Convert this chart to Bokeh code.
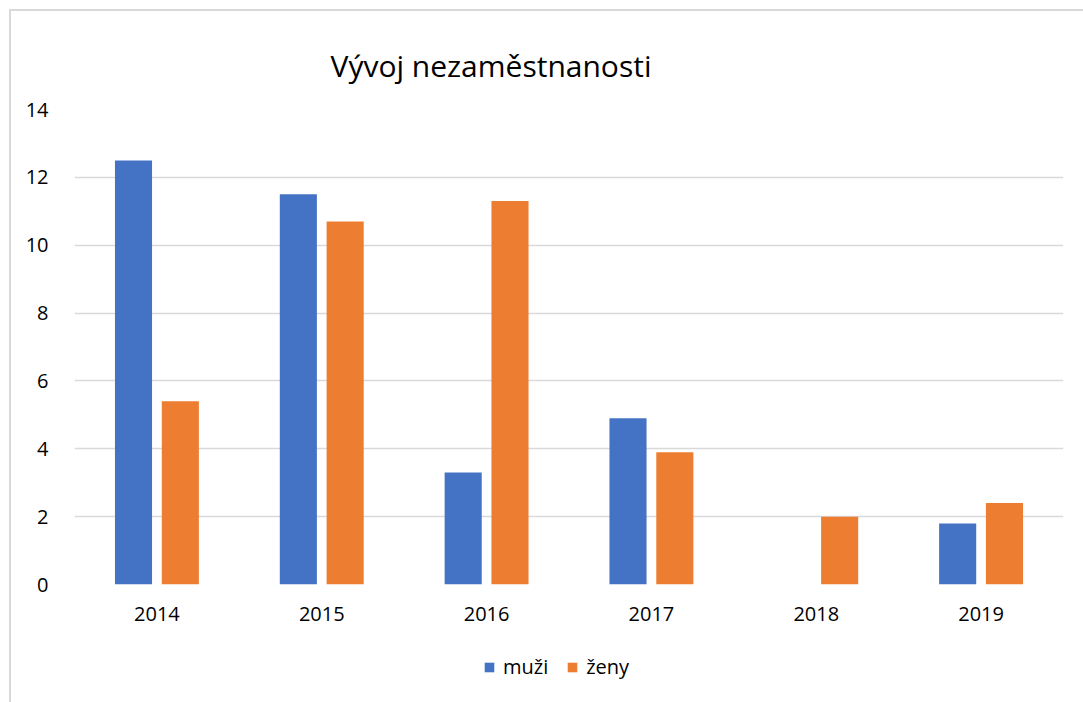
from bokeh.plotting import figure
from bokeh.layouts import column
from bokeh.models import (ColumnDataSource, FactorRange, Range1d, SingleIntervalTicker,
                          Legend, LegendItem)
from bokeh.transform import dodge
from bokeh.embed import file_html
from bokeh.resources import INLINE

years = ["2014", "2015", "2016", "2017", "2018", "2019"]
muzi = [12.5, 11.5, 3.3, 4.9, 0.0, 1.8]
zeny = [5.4, 10.7, 11.3, 3.9, 2.0, 2.4]
series_names = ["muži", "ženy"]
colors = ["#4472C4", "#ED7D31"]
title_text = "Vývoj nezaměstnanosti"

FONT = "Open Sans"
BORDER = "2px solid #D9D9D9"

source = ColumnDataSource(dict(years=years, muzi=muzi, zeny=zeny))

p = figure(width=1072, height=629, output_backend="svg", toolbar_location=None,
           x_range=FactorRange(*years, range_padding=0), y_range=Range1d(0, 14),
           min_border_left=63, min_border_right=20, min_border_top=98,
           min_border_bottom=56)

p.title.text = title_text
p.title.text_font = FONT
p.title.text_font_size = "30px"
p.title.text_font_style = "normal"
p.title.text_color = "#000000"
p.title.align = "left"
p.title.offset = 256
p.title.standoff = 47

r1 = p.vbar(x=dodge("years", -0.142, range=p.x_range), top="muzi", width=0.225,
            source=source, fill_color=colors[0], line_color=None)
r2 = p.vbar(x=dodge("years", 0.142, range=p.x_range), top="zeny", width=0.225,
            source=source, fill_color=colors[1], line_color=None)

p.outline_line_color = None
p.xgrid.grid_line_color = None
p.ygrid.grid_line_color = "#D9D9D9"
p.ygrid.grid_line_width = 1.5
p.yaxis.ticker = SingleIntervalTicker(interval=2)

for ax in (p.xaxis[0], p.yaxis[0]):
    ax.axis_line_color = None
    ax.major_tick_line_color = None
    ax.minor_tick_line_color = None
    ax.major_label_text_font = FONT
    ax.major_label_text_font_size = "20px"
    ax.major_label_text_color = "#000000"

p.yaxis.major_label_standoff = 20
p.xaxis.major_label_standoff = 16

# legend strip below the chart (its swatch renderers have zero height)
lg = figure(width=1072, height=62, output_backend="svg", toolbar_location=None,
            x_range=Range1d(0, 1), y_range=Range1d(0, 1),
            min_border_left=63, min_border_right=20, min_border_top=0,
            min_border_bottom=10)
lg.axis.visible = False
lg.grid.visible = False
lg.outline_line_color = None
l1 = lg.vbar(x=[0.5], top=[0], bottom=[0], width=0.0, fill_color=colors[0], line_color=None)
l2 = lg.vbar(x=[0.5], top=[0], bottom=[0], width=0.0, fill_color=colors[1], line_color=None)

legend = Legend(items=[LegendItem(label=series_names[0], renderers=[l1]),
                       LegendItem(label=series_names[1], renderers=[l2])],
                orientation="horizontal", location=(409, 12),
                label_text_font=FONT, label_text_font_size="20px",
                label_text_color="#000000",
                glyph_width=12, glyph_height=12, label_standoff=8, spacing=18,
                border_line_color=None, background_fill_alpha=0,
                margin=0, padding=0)
lg.add_layout(legend)

layout = column(p, lg, spacing=0)
layout.styles = {"margin-top": "9px", "margin-left": "9px",
                 "border-top": BORDER, "border-left": BORDER}

open("out.html", "w").write(file_html(layout, INLINE))
